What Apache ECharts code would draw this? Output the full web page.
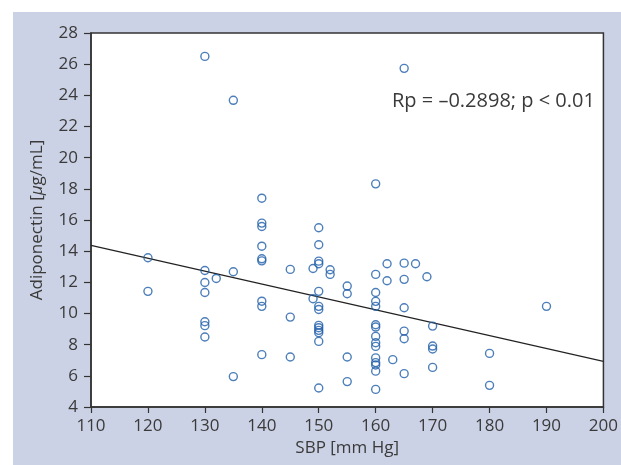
<!DOCTYPE html>
<html>
<head>
<meta charset="utf-8">
<script src="https://cdn.jsdelivr.net/npm/echarts@6/dist/echarts.min.js"></script>
<style>
  html, body { margin: 0; padding: 0; background: #ffffff; }
  #chart { width: 621px; height: 465px; }
</style>
</head>
<body>
<div id="chart"></div>
<script>
// Systolic blood pressure (mm Hg) per patient
const sbp = [
  120, 120,
  130, 130, 130, 130, 130, 130, 130,
  132,
  135, 135, 135,
  140, 140, 140, 140, 140, 140, 140, 140, 140,
  145, 145, 145,
  149, 149,
  150, 150, 150, 150, 150, 150, 150, 150, 150, 150, 150, 150, 150,
  152, 152,
  155, 155, 155, 155,
  160, 160, 160, 160, 160, 160, 160, 160, 160, 160, 160, 160, 160, 160, 160,
  162, 162,
  163,
  165, 165, 165, 165, 165, 165, 165,
  167,
  169,
  170, 170, 170, 170,
  180, 180,
  190
];

// Serum adiponectin (μg/mL), same order as sbp
const adiponectin = [
  13.58, 11.42,
  26.5, 12.76, 11.99, 11.35, 9.47, 9.22, 8.49,
  12.25,
  23.68, 12.68, 5.95,
  17.4, 15.8, 15.58, 14.32, 13.51, 13.38, 10.79, 10.46, 7.36,
  12.83, 9.77, 7.21,
  12.89, 10.95,
  15.5, 14.41, 13.36, 13.19, 11.42, 10.46, 10.26, 9.24, 9.09, 8.92, 8.77, 8.21, 5.22,
  12.81, 12.51,
  11.76, 11.27, 7.21, 5.63,
  18.32, 12.51, 11.35, 10.78, 10.46, 9.28, 9.13, 8.53, 8.12, 7.89, 7.15, 6.85, 6.7, 6.3, 5.13,
  13.19, 12.1,
  7.04,
  25.73, 13.23, 12.19, 10.37, 8.87, 8.38, 6.14,
  13.19,
  12.36,
  9.19, 7.91, 7.72, 6.54,
  7.44, 5.39,
  10.46
];

// Fitted regression line, endpoints at the x-axis limits
const fitX = [110, 200];
const fitY = [14.37, 6.93];

const annotation = 'Rp = \u20130.2898; p < 0.01';

const points = sbp.map((x, i) => [x, adiponectin[i]]);
const fitLine = fitX.map((x, i) => [x, fitY[i]]);

const textColor = '#3a3a3a';
const lineColor = '#333333';
const fontFamily = '"Open Sans", "DejaVu Sans", sans-serif';

const chart = echarts.init(document.getElementById('chart'), null, { renderer: 'canvas' });

chart.setOption({
  animation: false,
  backgroundColor: '#ffffff',
  textStyle: { fontFamily: fontFamily, color: textColor },
  graphic: [
    {
      type: 'rect',
      z: -10,
      silent: true,
      shape: { x: 13, y: 12, width: 608, height: 453 },
      style: { fill: '#ccd2e5' }
    },
    {
      type: 'text',
      z: 10,
      left: 392,
      top: 91,
      style: {
        text: annotation,
        fill: textColor,
        font: '20px "Open Sans", "DejaVu Sans", sans-serif'
      }
    }
  ],
  grid: {
    left: 91,
    right: 16,
    top: 33,
    bottom: 58,
    show: true,
    backgroundColor: '#ffffff',
    borderColor: lineColor,
    borderWidth: 1.5
  },
  xAxis: {
    type: 'value',
    min: 110,
    max: 200,
    interval: 10,
    name: 'SBP [mm Hg]',
    nameLocation: 'middle',
    nameGap: 33,
    nameTextStyle: { fontSize: 17, color: textColor, fontFamily: fontFamily },
    axisLine: { show: true, lineStyle: { color: lineColor, width: 1.5 } },
    axisTick: { show: true, inside: false, length: 6, lineStyle: { color: lineColor, width: 1.2 } },
    axisLabel: { fontSize: 17, color: textColor, margin: 11, fontFamily: fontFamily },
    splitLine: { show: false }
  },
  yAxis: {
    type: 'value',
    min: 4,
    max: 28,
    interval: 2,
    name: 'Adiponectin [{it|\u03bc}g/mL]',
    nameLocation: 'middle',
    nameGap: 45,
    nameRotate: 90,
    nameTextStyle: {
      fontSize: 17,
      color: textColor,
      fontFamily: fontFamily,
      rich: {
        it: { fontSize: 17, fontStyle: 'italic', color: textColor, fontFamily: fontFamily }
      }
    },
    axisLine: { show: true, lineStyle: { color: lineColor, width: 1.5 } },
    axisTick: { show: true, inside: false, length: 7, lineStyle: { color: lineColor, width: 1.2 } },
    axisLabel: { fontSize: 17, color: textColor, margin: 13, fontFamily: fontFamily },
    splitLine: { show: false }
  },
  series: [
    {
      type: 'line',
      data: fitLine,
      symbol: 'none',
      silent: true,
      lineStyle: { color: '#222222', width: 1.1 },
      z: 2
    },
    {
      type: 'scatter',
      data: points,
      symbol: 'circle',
      symbolSize: 8,
      itemStyle: {
        color: 'rgba(255,255,255,0)',
        borderColor: '#1f5ea8',
        borderWidth: 1.4
      },
      z: 3
    }
  ]
});
</script>
</body>
</html>
